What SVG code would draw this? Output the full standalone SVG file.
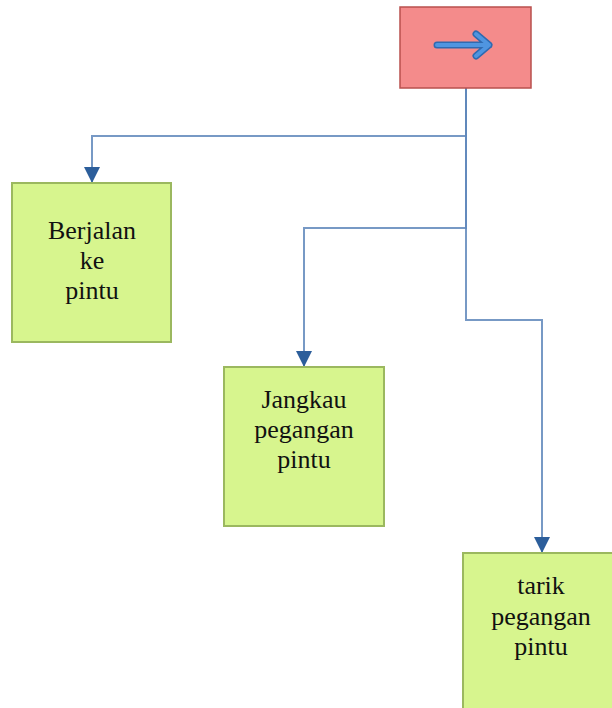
<svg xmlns="http://www.w3.org/2000/svg" width="612" height="708" viewBox="0 0 612 708">
<style>
.box{fill:#d7f58e;stroke:#9bb85f;stroke-width:2}
.start{fill:#f48b8b;stroke:#b9504e;stroke-width:1.5}
.lbl{font-family:"Liberation Serif","Times New Roman",serif;font-size:26px;fill:#111;text-anchor:middle}
.conn{fill:none;stroke:#5f87bb;stroke-width:2;stroke-opacity:0.85}
</style>
<defs>
<marker id="ah" viewBox="0 0 10 10" refX="10" refY="5" markerWidth="5" markerHeight="5" orient="auto" markerUnits="userSpaceOnUse">
<path d="M0,0 L10,5 L0,10 z" fill="#2c5e9b"/>
</marker>
<marker id="ah2" viewBox="0 0 16 16" refX="16" refY="8" markerWidth="16" markerHeight="16" orient="auto" markerUnits="userSpaceOnUse">
<path d="M0,0 L16,8 L0,16 z" fill="#2c5e9b"/>
</marker>
</defs>
<g id="connectors">
<path class="conn" d="M466,88 V136 H92 V183" marker-end="url(#ah2)"/>
<path class="conn" d="M466,88 V228 H304 V367" marker-end="url(#ah2)"/>
<path class="conn" d="M466,88 V320 H542 V553" marker-end="url(#ah2)"/>
</g>
<g id="start">
<rect class="start" x="400" y="7" width="131" height="81"/>
<g fill="none" stroke-linecap="round" stroke-linejoin="round">
<path d="M437,45 H489 M476,34 L489,45 L476,56" stroke="#2f6ab0" stroke-width="7"/>
<path d="M437,45 H489 M476,34 L489,45 L476,56" stroke="#4f95e0" stroke-width="4"/>
</g>
</g>
<g id="berjalan">
<rect class="box" x="12" y="183" width="159" height="159"/>
<text class="lbl" x="92" y="239">Berjalan</text>
<text class="lbl" x="92" y="269">ke</text>
<text class="lbl" x="92" y="299">pintu</text>
</g>
<g id="jangkau">
<rect class="box" x="224" y="367" width="160" height="159"/>
<text class="lbl" x="304" y="408">Jangkau</text>
<text class="lbl" x="304" y="438">pegangan</text>
<text class="lbl" x="304" y="468">pintu</text>
</g>
<g id="tarik">
<rect class="box" x="463" y="553" width="160" height="170"/>
<text class="lbl" x="541" y="594">tarik</text>
<text class="lbl" x="541" y="625">pegangan</text>
<text class="lbl" x="541" y="655">pintu</text>
</g>
</svg>
